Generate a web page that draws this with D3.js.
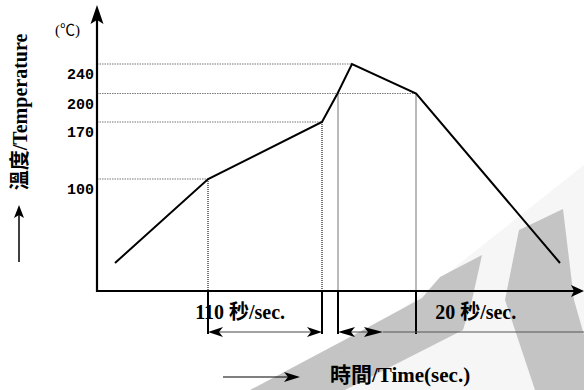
<!DOCTYPE html>
<html><head><meta charset="utf-8">
<script src="https://cdn.jsdelivr.net/npm/d3@7"></script>
<style>body{margin:0;background:#fff}svg{display:block}</style>
</head><body>
<script>
// Reflow soldering temperature profile
const tempTicks   = [100, 170, 200, 240];                 // °C
const profileTime = [0, 90, 200, 215, 229, 291, 430];     // seconds
const profileTemp = [25, 100, 170, 200, 240, 200, 25];    // °C
// indices of profile points that get a guide line down to the time axis
const dropPoints  = [1, 2, 3, 5];
// for each tick, the profile point its guide line runs to
const tickPoint   = [1, 2, 5, 4];
// dimension spans under the time axis (seconds)
const spanStart   = [90, 215];
const spanEnd     = [200, 259];
const spanLabels  = ["110 秒/sec.", "20 秒/sec."];
const tailFrom    = 259;   // thin reference line continues from here

const W = 584, H = 390;
const ox = 97, oy = 291;

const svg = d3.select("body").append("svg").attr("width", W).attr("height", H);

// faint background logo
const logo = svg.append("g");
logo.append("path").attr("fill", "#f6f6f6")
  .attr("d", "M300,390 L584,165 L584,390 Z");
logo.append("path").attr("fill", "#c4c4c4")
  .attr("d", "M250,390 L350,337 L422,298 L440,277 L482,255 L472,300 L463,330 L345,390 Z");
logo.append("path").attr("fill", "#c4c4c4")
  .attr("d", "M519,230 L563,209 L574,300 L584,335 L584,390 L535,390 L505,300 Z");

const x = d3.scaleLinear().domain([0, 430]).range([115, 560]);
const y = d3.scaleLinear().domain([0, 100, 170, 200, 240]).range([oy, 179, 122, 93.5, 64]);
const xr = t => Math.round(x(t));   // pixel-aligned position for 2px vertical strokes

const pts = profileTime.map((t, i) => [x(t), y(profileTemp[i])]);

// arrowhead with a notched back, tip at origin pointing along +x
function head(len, half, notch) {
  return `M0,0 L${-len},${-half} L${-len + notch},0 L${-len},${half} Z`;
}
function arrow(g, x1, y1, x2, y2, len, half, notch, width, color) {
  const a = Math.atan2(y2 - y1, x2 - x1);
  g.append("line").attr("x1", x1).attr("y1", y1)
    .attr("x2", x2 - Math.cos(a) * (len - notch)).attr("y2", y2 - Math.sin(a) * (len - notch))
    .attr("stroke", color).attr("stroke-width", width);
  g.append("path").attr("d", head(len, half, notch)).attr("fill", "#000")
    .attr("transform", `translate(${x2},${y2}) rotate(${a * 180 / Math.PI})`);
}

// horizontal guides from the temperature axis to the profile
svg.append("g").selectAll("line").data(tempTicks).join("line")
  .attr("x1", ox).attr("x2", (d, i) => pts[tickPoint[i]][0])
  .attr("y1", d => y(d)).attr("y2", d => y(d))
  .attr("stroke", "#777").attr("stroke-width", 1.2).attr("stroke-dasharray", "1.5,1");

// vertical guides from the profile down to the time axis
svg.append("g").selectAll("line").data(dropPoints).join("line")
  .attr("x1", i => xr(profileTime[i])).attr("x2", i => xr(profileTime[i]))
  .attr("y1", i => pts[i][1]).attr("y2", oy)
  .attr("stroke", "#777").attr("stroke-width", 2).attr("stroke-dasharray", "1,1");

// profile curve
svg.append("path").datum(pts)
  .attr("d", d3.line())
  .attr("fill", "none").attr("stroke", "#000").attr("stroke-width", 2)
  .attr("stroke-linejoin", "miter");

// temperature axis
const yAxis = d3.axisLeft(y).tickValues(tempTicks).tickSize(0).tickPadding(3);
const ga = svg.append("g").attr("transform", `translate(${ox},0)`).call(yAxis);
ga.select(".domain").remove();
ga.selectAll("text").attr("dy", 14.5)
  .attr("font-family", "'Liberation Mono', 'DejaVu Sans Mono', monospace")
  .attr("font-weight", "bold").attr("font-size", 15).attr("fill", "#000");

const axes = svg.append("g");
arrow(axes, ox, oy + 1, ox, 5, 19, 6.5, 4, 2.2, "#000");
arrow(axes, ox - 1, oy, 584, oy, 13, 6, 3, 2.2, "#000");

// extension lines below the time axis
const extTimes = [spanStart[0], spanEnd[0], spanStart[1], profileTime[5]];
svg.append("g").selectAll("line").data(extTimes).join("line")
  .attr("x1", d => xr(d)).attr("x2", d => xr(d)).attr("y1", oy).attr("y2", 334)
  .attr("stroke", "#000").attr("stroke-width", 2);

const dims = svg.append("g");
const dimY = 332;
// first span: double-headed
arrow(dims, (x(spanStart[0]) + x(spanEnd[0])) / 2, dimY, xr(spanStart[0]), dimY, 15, 5, 4, 1, "#444");
arrow(dims, (x(spanStart[0]) + x(spanEnd[0])) / 2, dimY, xr(spanEnd[0]), dimY, 15, 5, 4, 1, "#444");
// second span
arrow(dims, (x(spanStart[1]) + x(spanEnd[1])) / 2, dimY, xr(spanStart[1]), dimY, 17, 5, 4, 1, "#444");
arrow(dims, (x(spanStart[1]) + x(spanEnd[1])) / 2, dimY, xr(spanEnd[1]), dimY, 19, 5, 4, 1, "#444");
dims.append("line").attr("x1", x(tailFrom)).attr("x2", W).attr("y1", dimY).attr("y2", dimY)
  .attr("stroke", "#555").attr("stroke-width", 1);

const serif = "'Liberation Serif', 'Times New Roman', 'Noto Sans CJK TC', serif";
svg.append("g").selectAll("text").data(spanLabels).join("text")
  .attr("x", (d, i) => i === 0 ? x(spanStart[0]) - 13 : x(profileTime[5]) + 19)
  .attr("y", 319)
  .attr("font-family", serif).attr("font-weight", "bold").attr("font-size", 20)
  .text(d => d);

// axis titles
svg.append("text").attr("x", 330).attr("y", 382)
  .attr("font-family", serif).attr("font-weight", "bold").attr("font-size", 21)
  .text("時間/Time(sec.)");
arrow(svg.append("g"), 223, 377, 300, 377, 16, 5, 4, 1.2, "#000");

svg.append("text").attr("transform", "translate(27,112) rotate(-90)")
  .attr("text-anchor", "middle")
  .attr("font-family", serif).attr("font-weight", "bold").attr("font-size", 20)
  .text("溫度/Temperature");
arrow(svg.append("g"), 19, 262, 19, 205, 13, 5, 3, 1.5, "#000");

svg.append("text").attr("x", 55).attr("y", 35)
  .attr("font-family", serif).attr("font-size", 15)
  .text("(℃)");
</script>
</body></html>
